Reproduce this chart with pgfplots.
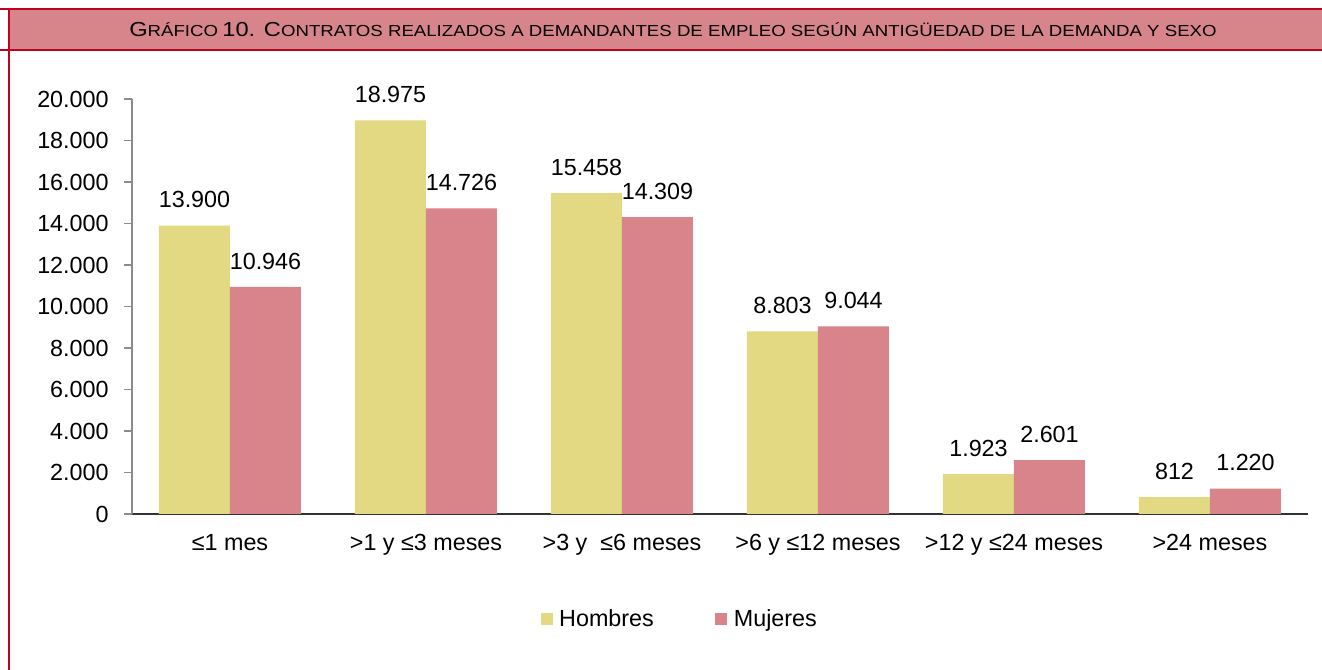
\documentclass[border=0pt]{standalone}
\usepackage{fontspec}
\setmainfont{Liberation Sans}
\usepackage{graphicx}
\usepackage{pgfplots}
\pgfplotsset{compat=1.18}
\definecolor{cyel}{HTML}{E2D982}
\definecolor{cpink}{HTML}{D9838B}
\definecolor{cband}{HTML}{D8848B}
\definecolor{cred}{HTML}{C00020}
\newcommand{\bigc}[1]{{\fontsize{15.2}{15.2}\selectfont #1}}
\newcommand{\smc}[1]{{\fontsize{12}{12}\selectfont #1}}
\begin{document}
\begin{tikzpicture}[x=0.75pt,y=0.75pt]
\useasboundingbox (0,0) rectangle (1322,670);
% title band
\fill[cband] (9,620) rectangle (1323,661);
\draw[cred,line width=1.6pt] (-2,661) -- (1323,661);
\draw[cred,line width=1.6pt] (-2,620) -- (1323,620);
\draw[cred,line width=1.6pt] (9,662) -- (9,-2);
\node[anchor=center,inner sep=0pt] at (673,640) {\scalebox{1.165}[1]{\bigc{G}\smc{RÁFICO} \bigc{10. C}\smc{ONTRATOS REALIZADOS A DEMANDANTES DE EMPLEO SEGÚN ANTIGÜEDAD DE LA DEMANDA Y SEXO}}};
\begin{axis}[
  at={(99pt,117pt)}, anchor=south west,
  scale only axis, width=882pt, height=311.25pt,
  ybar=0pt, bar width=53.25pt,
  xmin=-0.5, xmax=5.5, ymin=0, ymax=20000,
  xtick={0,1,2,3,4,5},
  xticklabels={≤1 mes, >1 y ≤3 meses, >3 y\ \ ≤6 meses, >6 y ≤12 meses, >12 y ≤24 meses, >24 meses},
  ytick={0,2000,...,20000},
  scaled y ticks=false,
  /pgf/number format/.cd, fixed, precision=0, 1000 sep={.}, assume math mode=true, /pgfplots/.cd,
  axis x line*=bottom, axis y line*=left,
  x axis line style={draw=black!80, line width=0.9pt, -},
  y axis line style={draw=black!45, line width=0.9pt, -},
  x tick style={draw=none},
  y tick style={draw=black!45, line width=0.9pt},
  tick align=outside, major tick length=6pt,
  tick label style={font=\fontsize{17.5}{17.5}\selectfont, text=black},
  yticklabel style={xshift=-8pt},
  xticklabel style={yshift=-6pt},
  nodes near coords,
  every node near coord/.append style={font=\fontsize{17.5}{17.5}\selectfont, inner sep=0pt, yshift=13pt, anchor=south},
  legend columns=2,
  legend style={draw=none, at={(0.466,-0.253)}, anchor=center, font=\fontsize{17.5}{17.5}\selectfont,
    /tikz/every even column/.append style={column sep=44pt}},
  legend image code/.code={\fill[#1] (0pt,-4.5pt) rectangle (9pt,4.5pt); \path (12pt,0pt);},
]
\addplot[fill=cyel, draw=none] coordinates {(0,13900) (1,18975) (2,15458) (3,8803) (4,1923) (5,812)};
\addplot[fill=cpink, draw=none] coordinates {(0,10946) (1,14726) (2,14309) (3,9044) (4,2601) (5,1220)};
\legend{Hombres, Mujeres}
\end{axis}
\end{tikzpicture}
\end{document}
